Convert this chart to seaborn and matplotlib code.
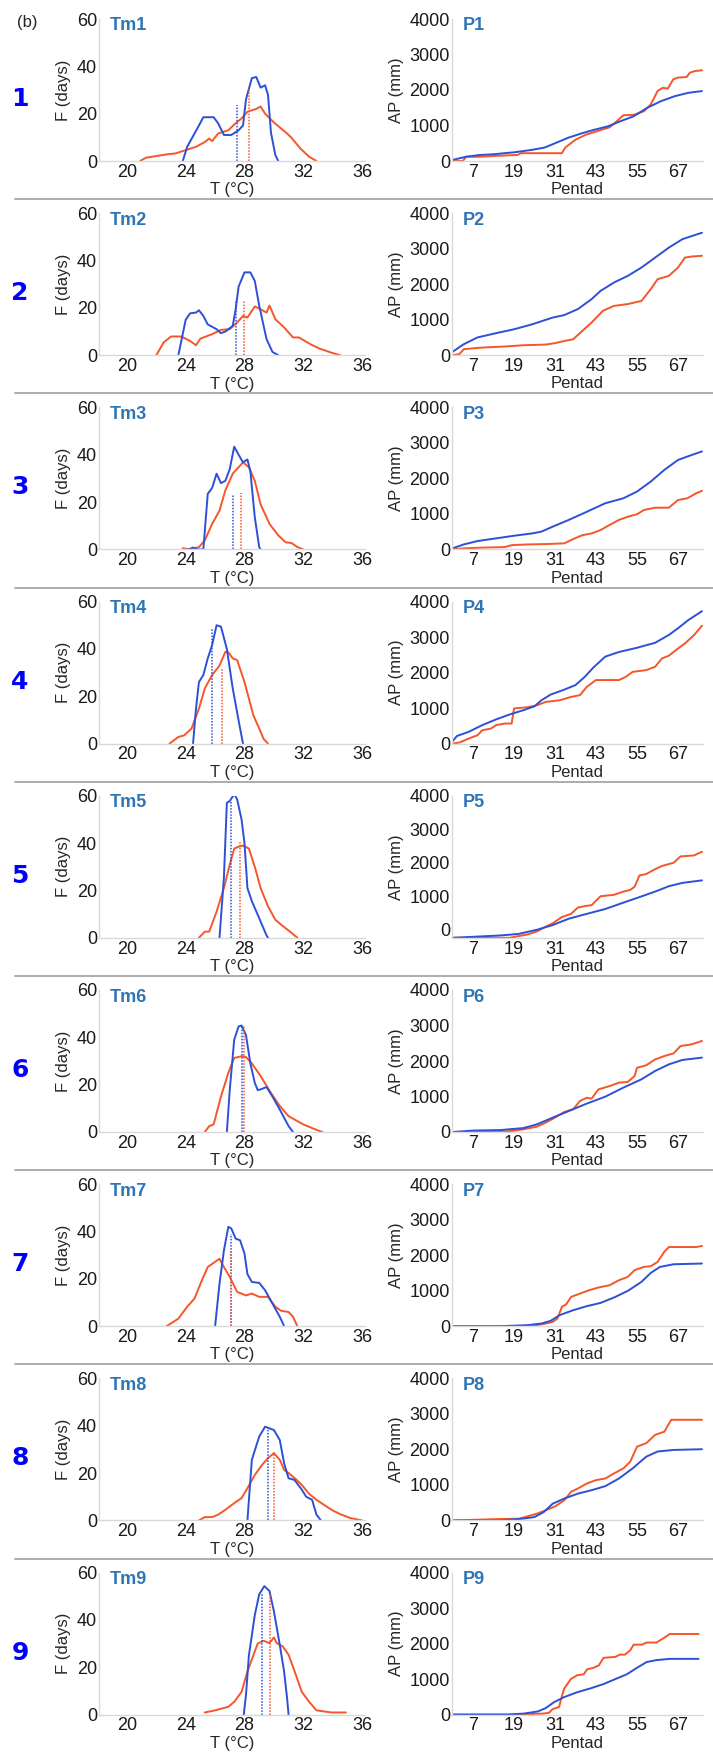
"""
Tm frequency curves and accumulated pentad precipitation, 9 regions
"""

import matplotlib
matplotlib.use('Agg')
import matplotlib.pyplot as plt
from matplotlib import font_manager
from matplotlib.lines import Line2D
import seaborn as sns
import pandas as pd

# ---- data (T in degC, F in days) ----
tm1_blue = [(23.8, 0), (24.1, 6), (24.9, 15), (25.2, 18.5), (25.9, 18.5), (26.2, 16), (26.6, 11), (27.1, 11),
            (27.6, 13), (27.9, 15), (28.1, 26), (28.5, 35), (28.8, 35.5), (29.1, 31), (29.4, 32), (29.6, 28),
            (29.8, 12), (30.1, 2.5), (30.3, 0)]
tm1_red = [(20.9, 0), (21.3, 1.4), (22.7, 2.8), (23.3, 3.2), (24.0, 4.6), (24.7, 6), (25.3, 8), (25.6, 9.5),
           (25.8, 8.4), (26.2, 11.6), (26.9, 13), (27.3, 15.4), (27.8, 18), (28.2, 20.8), (28.8, 22), (29.1, 23),
           (29.4, 20), (30.0, 16.3), (30.9, 11.6), (31.2, 9.8), (31.8, 5.3), (32.4, 1.8), (32.9, 0)]
tm2_blue = [(23.5, 0), (24.0, 15), (24.3, 17.7), (24.7, 18), (24.9, 19), (25.2, 16.6), (25.5, 13), (26.1, 11),
            (26.4, 9.3), (26.7, 10), (27.2, 12.4), (27.4, 19.4), (27.6, 29), (28.0, 35), (28.4, 35), (28.7, 31.4),
            (29.0, 21), (29.5, 6.8), (29.9, 1.4), (30.3, 0)]
tm2_red = [(22.0, 0), (22.5, 5.4), (23.0, 7.9), (23.7, 7.9), (24.3, 6), (24.7, 4.2), (25.0, 7), (25.8, 8.9),
           (26.4, 10.7), (27.0, 11), (27.5, 13.8), (27.9, 16.6), (28.2, 15.9), (28.7, 20.6), (29.1, 19.4),
           (29.5, 18), (29.7, 21), (30.1, 15.2), (30.7, 11.7), (31.3, 7.5), (31.7, 7.5), (32.5, 4.6), (33.1, 2.8),
           (33.9, 1.1), (34.5, 0)]
tm3_blue = [(24.2, 0), (24.5, 0.8), (24.8, 0), (25.2, 0), (25.5, 23.5), (25.8, 26), (26.1, 32), (26.4, 28),
            (26.7, 29), (27.0, 34), (27.3, 43.4), (27.6, 40), (27.9, 36.8), (28.2, 38), (28.4, 33), (28.7, 13.6),
            (29.0, 1), (29.1, 0)]
tm3_red = [(23.8, 0.5), (24.3, 0), (24.9, 1), (25.3, 3.8), (25.8, 10.8), (26.3, 16.4), (26.7, 25), (27.2, 32),
           (27.6, 34.7), (27.9, 36.8), (28.3, 34.7), (28.7, 29), (29.1, 19), (29.7, 10.8), (30.3, 5.9), (30.8, 3),
           (31.2, 2.7), (31.6, 1), (32.0, 0)]
tm4_blue = [(24.5, 0), (24.7, 14.8), (24.9, 26), (25.2, 29), (25.5, 36), (25.8, 41.7), (26.1, 50), (26.4, 49.4),
            (26.8, 40), (27.2, 23.3), (27.7, 6.4), (27.9, 0)]
tm4_red = [(22.9, 0), (23.5, 2.8), (23.9, 3.5), (24.4, 6.4), (24.9, 14.8), (25.3, 23.3), (25.8, 29), (26.3, 33),
           (26.7, 38.8), (26.9, 38.6), (27.2, 36), (27.5, 35.3), (28.0, 26), (28.6, 12), (29.0, 6.4), (29.3, 2),
           (29.6, 0)]
tm5_blue = [(26.3, 0), (26.6, 25.5), (26.8, 57), (27.0, 57.8), (27.3, 60.7), (27.5, 58.5), (27.8, 50), (28.0, 40),
            (28.2, 21), (28.5, 15.5), (29.0, 8.3), (29.5, 1), (29.6, 0)]
tm5_red = [(24.9, 0), (25.3, 2.6), (25.6, 2.6), (26.1, 11), (26.6, 21), (27.0, 31), (27.3, 37.7), (27.6, 38.5),
           (27.9, 39), (28.3, 37.7), (28.7, 30), (29.1, 21), (29.6, 13.3), (30.1, 7.6), (30.5, 5.5), (31.1, 2.6),
           (31.6, 0)]
tm6_blue = [(26.8, 0), (27.0, 18), (27.3, 39), (27.6, 44.6), (27.8, 45), (28.1, 41), (28.4, 29), (28.7, 20.8),
            (28.9, 17.7), (29.1, 18), (29.5, 19), (29.9, 15), (30.4, 9.5), (31.0, 2.5), (31.3, 0)]
tm6_red = [(25.3, 0), (25.6, 2.5), (25.9, 3.2), (26.4, 15), (26.9, 25), (27.3, 31.3), (27.8, 32), (28.1, 31.7),
           (28.5, 29), (29.1, 23.6), (29.8, 16.5), (30.4, 11), (31.0, 6.7), (31.4, 5.3), (32.0, 3.2), (32.7, 1.4),
           (33.3, 0)]
tm7_blue = [(26.0, 0), (26.3, 18), (26.6, 32), (26.9, 42), (27.1, 41.3), (27.4, 37), (27.7, 36.3), (28.0, 30.7),
            (28.2, 22), (28.5, 18.7), (29.0, 18.3), (29.4, 15.2), (29.9, 9.6), (30.4, 4), (30.7, 0)]
tm7_red = [(22.7, 0), (23.5, 3.2), (24.1, 8.2), (24.6, 11.7), (25.1, 19.4), (25.5, 25), (26.0, 27.2), (26.3, 28.5),
           (26.6, 25), (27.0, 20.8), (27.5, 14.5), (28.1, 13), (28.5, 13.8), (29.0, 12.4), (29.6, 12.4),
           (30.1, 8.2), (30.5, 6.5), (31.0, 6), (31.3, 4), (31.6, 0)]
tm8_blue = [(28.2, 0), (28.5, 25.6), (29.0, 35.4), (29.4, 39.6), (29.7, 38.9), (30.0, 38.2), (30.4, 34), (30.7, 24),
            (31.0, 17.8), (31.4, 17.1), (31.9, 13), (32.2, 10), (32.6, 8.7), (32.9, 2.4), (33.2, 0)]
tm8_red = [(24.9, 0), (25.3, 1.4), (25.8, 1.4), (26.2, 2.4), (26.7, 4.5), (27.3, 7.3), (27.8, 9.4), (28.2, 13.6),
           (28.7, 19.2), (29.2, 23.5), (29.6, 26.3), (30.0, 28.4), (30.4, 25.6), (30.7, 21.3), (31.0, 20),
           (31.5, 17.4), (31.9, 15), (32.4, 11.2), (32.9, 8.7), (33.4, 6.6), (34.0, 4.2), (34.6, 2.4), (35.2, 1),
           (36.0, 0)]
tm9_blue = [(27.95, 0), (28.1, 8.2), (28.3, 25), (28.7, 42), (29.0, 50.8), (29.35, 54.3), (29.7, 52.2), (30.0, 43.7),
            (30.4, 29.5), (30.7, 18), (30.9, 6.8), (31.0, 0)]
tm9_red = [(25.3, 0.9), (26.0, 1.8), (26.9, 3.3), (27.3, 5.4), (27.8, 9.6), (28.2, 18.2), (28.7, 26.7), (28.9, 30),
           (29.3, 31.2), (29.7, 30.2), (30.0, 32.6), (30.2, 30.2), (30.6, 28.8), (31.0, 25.3), (31.5, 16.7),
           (31.9, 9.6), (32.4, 5.4), (32.9, 1.8), (33.9, 0.9), (34.9, 0.9)]

# mean temperature markers (T, height of dotted line)
mean_blue = [(27.5, 23.8), (27.4, 23), (27.2, 23.5), (25.8, 49), (27.1, 57.8), (27.8, 45.3), (27.1, 39),
             (29.6, 38.9), (29.2, 50.8)]
mean_red = [(28.3, 30.6), (28.0, 23), (27.75, 24), (26.5, 31.8), (27.7, 40.6), (28.0, 44.6), (27.1, 31.4),
            (30.0, 29), (29.75, 50.8)]

# ---- accumulated precipitation (pentad, mm) ----
p1_blue = [(1, 30), (5, 120), (9, 170), (13, 190), (19, 245), (24, 310), (28, 380), (31, 500), (35, 660),
           (39, 785), (42.5, 880), (46.4, 975), (50, 1115), (54, 1260), (58, 1500), (62, 1685), (66, 1825),
           (70, 1920), (74, 1970)]
p1_red = [(1, 0), (4, 0), (5, 120), (9, 120), (15, 150), (20, 170), (21, 220), (33, 220), (34, 380), (37, 600),
          (40, 740), (43, 830), (47, 950), (49, 1115), (51, 1290), (54, 1300), (57, 1400), (59, 1590), (61, 1970),
          (62.5, 2060), (64, 2040), (65.6, 2300), (67, 2350), (69.5, 2365), (70.5, 2490), (72, 2535), (74, 2555)]
p2_blue = [(1, 94), (4.3, 310), (8.3, 500), (13.7, 620), (19, 730), (24.3, 870), (30.3, 1060), (33.7, 1130),
           (37.7, 1300), (41.7, 1580), (44.3, 1810), (48.3, 2050), (52.3, 2235), (56.3, 2470), (60.3, 2750),
           (64.3, 3030), (68.3, 3270), (74, 3450)]
p2_red = [(1, 0), (3, 30), (4.3, 170), (9.7, 215), (16.3, 245), (21.7, 280), (28.3, 300), (31, 340), (33.7, 400),
          (36.3, 450), (39, 685), (41.7, 920), (45, 1250), (48.3, 1390), (52.3, 1440), (56.3, 1530), (59, 1860),
          (61, 2140), (64.3, 2235), (67, 2470), (69, 2750), (71, 2780), (74, 2800)]
p3_blue = [(1, 30), (4.3, 140), (8.3, 235), (13.7, 310), (19, 385), (24.3, 450), (27, 500), (30.3, 640), (35, 830),
           (40.3, 1060), (45.7, 1300), (51, 1440), (55, 1630), (59, 1910), (63, 2240), (67, 2520), (71, 2660),
           (74, 2760)]
p3_red = [(1, 0), (4.3, 30), (9.7, 50), (16.3, 65), (18.3, 120), (23, 140), (28.3, 150), (33.7, 170), (36.3, 290),
          (39, 400), (41.7, 450), (44.3, 545), (47, 690), (49.7, 830), (52.3, 920), (55, 990), (57, 1110),
          (60.3, 1175), (64.3, 1175), (67, 1390), (69.7, 1440), (72.3, 1580), (74, 1650)]
p4_blue = [(1, 65), (2.3, 215), (5.7, 330), (9.7, 520), (13.7, 680), (17.7, 820), (21.7, 940), (25, 1050),
           (27, 1220), (29.7, 1380), (33.7, 1520), (37, 1650), (39.7, 1880), (42.3, 2150), (45.7, 2450),
           (49.7, 2580), (55, 2700), (60.3, 2840), (64.3, 3060), (67, 3250), (70, 3480), (74, 3730)]
p4_red = [(1, 0), (3, 30), (5.7, 140), (8.3, 235), (9.7, 375), (12.3, 425), (13.7, 520), (16.3, 565), (18.3, 565),
          (19, 990), (23, 1025), (25.7, 1080), (28.3, 1175), (32.3, 1220), (35.7, 1315), (38.3, 1365), (40.3, 1600),
          (43, 1790), (49.7, 1790), (51.7, 1880), (53.7, 2020), (57.7, 2070), (60.3, 2165), (62.3, 2400),
          (64.3, 2475), (67, 2680), (69, 2820), (71.7, 3060), (74, 3320)]
p5_blue = [(1, -240), (7, -210), (15, -170), (20.3, -125), (25.7, 0), (30.3, 140), (35, 330), (40.3, 475),
           (45.7, 620), (51, 810), (55, 950), (60.3, 1140), (64.3, 1300), (68.3, 1400), (74, 1475)]
p5_red = [(1, -240), (17.7, -240), (20.3, -190), (23, -140), (25.7, -50), (28.3, 95), (30.3, 190), (33, 380),
          (35.7, 475), (37.7, 665), (40.3, 715), (41.7, 735), (44.3, 1000), (48.3, 1045), (51, 1140), (53, 1190),
          (54.3, 1285), (55.7, 1620), (57.7, 1665), (60.3, 1810), (62.3, 1905), (65.7, 2000), (67.7, 2190),
          (71.7, 2220), (74, 2330)]
p6_blue = [(1, 0), (7, 40), (15, 55), (21.7, 110), (25.7, 215), (30.3, 405), (35, 590), (40.3, 800), (45.7, 995),
           (51, 1250), (56.3, 1485), (60.3, 1720), (64.3, 1905), (68.3, 2030), (74, 2095)]
p6_red = [(1, 0), (9.7, 0), (17.7, 20), (21.7, 75), (25.7, 150), (28.3, 265), (31, 405), (33.7, 565), (36.3, 640),
          (38.3, 875), (40.3, 965), (41.7, 940), (43.7, 1200), (47, 1295), (49.7, 1390), (52.3, 1410),
          (54.3, 1580), (55, 1810), (57.7, 1880), (60.3, 2045), (63, 2140), (65.7, 2215), (67.7, 2420),
          (71, 2470), (74, 2565)]
p7_blue = [(1, 0), (15, 0), (23, 30), (27, 75), (29.7, 150), (32.3, 310), (36.3, 450), (40.3, 565), (44.3, 655),
           (48.3, 810), (52.3, 995), (56.3, 1250), (59, 1500), (61.7, 1670), (65.7, 1745), (74, 1765)]
p7_red = [(1, 0), (21.7, 0), (25.7, 30), (28.3, 75), (30.3, 120), (31.7, 215), (33, 545), (34.3, 620),
          (35.7, 825), (38.3, 920), (41, 1015), (43.7, 1090), (47, 1155), (49.7, 1295), (52.3, 1390),
          (54.3, 1580), (57, 1670), (59, 1690), (61, 1810), (63, 2100), (64.3, 2230), (72.3, 2230), (74, 2260)]
p8_blue = [(1, 0), (15, 0), (21.7, 50), (25, 95), (27.7, 235), (30.3, 470), (33.7, 615), (37.7, 755), (41.7, 850),
           (45.7, 965), (49.7, 1180), (53.7, 1465), (57.7, 1795), (61, 1940), (65.7, 1985), (74, 2005)]
p8_red = [(1, 0), (8.3, 20), (15, 40), (20.3, 45), (23, 115), (25.7, 190), (28.3, 285), (31, 395), (33.7, 565),
          (35.7, 805), (37.7, 900), (40.3, 1040), (43, 1135), (45.7, 1180), (48.3, 1325), (51, 1465), (53, 1655),
          (55, 2080), (57.7, 2175), (60.3, 2410), (63, 2500), (65, 2835), (74, 2835)]
p9_blue = [(1, 0), (17, 0), (22, 30), (26, 90), (28.3, 185), (30.7, 350), (33.6, 490), (37.5, 630), (41.4, 740),
           (45.2, 860), (49, 1015), (52, 1135), (55, 1320), (57.8, 1480), (60.7, 1535), (64.6, 1570), (73, 1570)]
p9_red = [(1, 0), (20, 0), (27.8, 30), (29.3, 55), (30.2, 150), (32.2, 215), (32.8, 445), (33.6, 720),
          (35.6, 1000), (37.5, 1110), (39.4, 1135), (40.4, 1275), (42.3, 1320), (43.8, 1385), (45.2, 1600),
          (48.6, 1625), (50, 1690), (51.5, 1690), (53, 1810), (54, 1970), (56.4, 1970), (57.8, 2030),
          (60.7, 2030), (62.7, 2150), (64.6, 2270), (73, 2270)]

tm_ticks = [20, 24, 28, 32, 36]
f_ticks = [0, 20, 40, 60]
pentad_ticks = [7, 19, 31, 43, 55, 67]
ap_ticks = [0, 1000, 2000, 3000, 4000]

BLUE = '#2D50D6'
RED = '#F5562A'
TITLE_BLUE = '#2E75B6'
SPINE = '#D9D9D9'

# Set style
sns.set_style('white')
names = {f.name for f in font_manager.fontManager.ttflist}
narrow = 'Liberation Sans Narrow' in names
base_font = 'Liberation Sans Narrow' if narrow else 'Liberation Sans'
plt.rcParams['font.family'] = [base_font, 'DejaVu Sans']
tick_fs = 15.5 if narrow else 13
label_fs = 14 if narrow else 12

W, H = 713, 1754
ROW_STEP = 194.2
AX_H = 142
TOP0 = 19


def to_df(points, xname, yname):
    """Points list -> dataframe for seaborn"""
    return pd.DataFrame(points, columns=[xname, yname])


def style_axis(ax):
    """Light spines, no ticks"""
    sns.despine(ax=ax)
    for s in ['left', 'bottom']:
        ax.spines[s].set_color(SPINE)
        ax.spines[s].set_linewidth(1.0)
    ax.tick_params(length=0, labelsize=tick_fs, colors='#1a1a1a')
    ax.tick_params(axis='x', pad=2)
    ax.tick_params(axis='y', pad=1.5)
    ax.grid(False)


fig = plt.figure(figsize=(W / 100, H / 100), dpi=100)

tm_rows = [(tm1_blue, tm1_red), (tm2_blue, tm2_red), (tm3_blue, tm3_red), (tm4_blue, tm4_red),
           (tm5_blue, tm5_red), (tm6_blue, tm6_red), (tm7_blue, tm7_red), (tm8_blue, tm8_red),
           (tm9_blue, tm9_red)]
p_rows = [(p1_blue, p1_red), (p2_blue, p2_red), (p3_blue, p3_red), (p4_blue, p4_red), (p5_blue, p5_red),
          (p6_blue, p6_red), (p7_blue, p7_red), (p8_blue, p8_red), (p9_blue, p9_red)]

for i in range(9):
    top = TOP0 + ROW_STEP * i
    bottom = 1 - (top + AX_H) / H

    # separator line between rows
    if i > 0:
        yl = 1 - (top - 14) / H
        fig.add_artist(Line2D([15 / W, 1.0], [yl, yl], color='#A6A6A6', lw=1.3))

    # row number
    fig.text(20 / W, 1 - (top + 80) / H, str(i + 1), color='#0000FF', fontsize=18,
             fontweight='bold', family='DejaVu Sans', ha='center', va='center')

    # ---- left: temperature frequency ----
    ax = fig.add_axes([99 / W, bottom, 266 / W, AX_H / H])
    blue, red = tm_rows[i]
    sns.lineplot(data=to_df(red, 'T', 'F'), x='T', y='F', sort=False, estimator=None,
                 color=RED, lw=1.4, ax=ax)
    sns.lineplot(data=to_df(blue, 'T', 'F'), x='T', y='F', sort=False, estimator=None,
                 color=BLUE, lw=1.4, ax=ax)
    mb, mr = mean_blue[i], mean_red[i]
    ax.vlines(mb[0], 0, mb[1], color=BLUE, lw=1.1, linestyles=(0, (1, 1)))
    ax.vlines(mr[0], 0, mr[1], color=RED, lw=1.1, linestyles=(0, (1, 1)))
    ax.set_xlim(18.1, 36.2)
    ax.set_ylim(0, 60)
    ax.set_xticks(tm_ticks)
    ax.set_yticks(f_ticks)
    style_axis(ax)
    ax.set_xlabel('T (°C)', fontsize=label_fs)
    ax.set_ylabel('F (days)', fontsize=label_fs)
    ax.xaxis.set_label_coords(0.5, -0.15)
    ax.yaxis.set_label_coords(-0.105, 0.5)
    ax.text(11 / 266, 1 - 7 / AX_H, f'Tm{i + 1}', transform=ax.transAxes, color=TITLE_BLUE,
            fontsize=13, fontweight='bold', family=['Liberation Sans', 'DejaVu Sans'],
            ha='left', va='center')

    # ---- right: accumulated precipitation ----
    ax2 = fig.add_axes([452 / W, bottom, 251 / W, AX_H / H])
    blue, red = p_rows[i]
    sns.lineplot(data=to_df(red, 'Pentad', 'AP'), x='Pentad', y='AP', sort=False, estimator=None,
                 color=RED, lw=1.4, ax=ax2)
    sns.lineplot(data=to_df(blue, 'Pentad', 'AP'), x='Pentad', y='AP', sort=False, estimator=None,
                 color=BLUE, lw=1.4, ax=ax2)
    ax2.set_xlim(0.85, 74.3)
    ax2.set_ylim(-240 if i == 4 else 0, 4000)
    ax2.set_xticks(pentad_ticks)
    ax2.set_yticks(ap_ticks)
    style_axis(ax2)
    ax2.set_xlabel('Pentad', fontsize=label_fs)
    ax2.set_ylabel('AP (mm)', fontsize=label_fs)
    ax2.xaxis.set_label_coords(0.5, -0.15)
    ax2.yaxis.set_label_coords(-0.19, 0.5)
    ax2.text(11 / 251, 1 - 7 / AX_H, f'P{i + 1}', transform=ax2.transAxes, color=TITLE_BLUE,
             fontsize=13, fontweight='bold', family=['Liberation Sans', 'DejaVu Sans'],
             ha='left', va='center')

fig.text(17 / W, 1 - 23 / H, '(b)', fontsize=12, family=['Liberation Sans', 'DejaVu Sans'],
         ha='left', va='center')

fig.savefig('out.png', dpi=100)
plt.close(fig)
